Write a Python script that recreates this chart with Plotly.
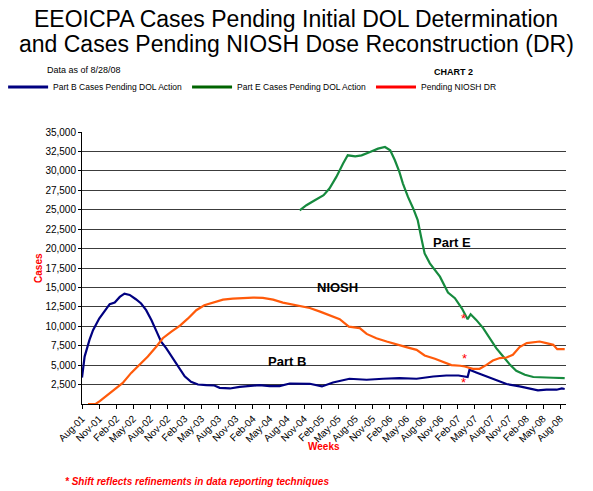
import plotly.graph_objects as go

# Part B cases pending DOL action (weekly series)
partb_dates = ["2001-08-01", "2001-08-15", "2001-09-10", "2001-09-29", "2001-11-01", "2001-12-01",
               "2001-12-27", "2002-01-23", "2002-02-19", "2002-03-16", "2002-04-13", "2002-05-16",
               "2002-06-13", "2002-07-10", "2002-08-07", "2002-09-04", "2002-09-28", "2002-10-25",
               "2002-11-22", "2002-12-28", "2003-02-01", "2003-03-07", "2003-04-13", "2003-05-28",
               "2003-07-10", "2003-08-07", "2003-10-01", "2003-11-22", "2004-01-16", "2004-03-07",
               "2004-05-01", "2004-06-22", "2004-08-16", "2004-10-10", "2004-12-01", "2005-02-04",
               "2005-04-04", "2005-07-01", "2005-10-01", "2005-12-28", "2006-03-25", "2006-06-25",
               "2006-09-22", "2006-12-01", "2007-02-04", "2007-03-25", "2007-04-04", "2007-05-10",
               "2007-07-04", "2007-08-25", "2007-10-19", "2007-12-28", "2008-02-22", "2008-04-04",
               "2008-05-19", "2008-07-13", "2008-08-10", "2008-08-25"]
partb_cases = [3400, 6100, 8250, 9500, 11000, 12070,
               12840, 13050, 13780, 14200, 14030, 13480,
               12930, 12070, 10800, 9310, 8030, 7180,
               6120, 4850, 3570, 2850, 2510, 2420,
               2380, 2080, 2000, 2210, 2300, 2420,
               2300, 2300, 2640, 2610, 2600, 2260,
               2770, 3250, 3120, 3250, 3340, 3250,
               3540, 3670, 3670, 3470, 4400, 4060,
               3540, 2990, 2570, 2260, 1930, 1750,
               1840, 1840, 2000, 1930]

# Part E cases pending DOL action
parte_dates = ["2004-10-08", "2004-11-13", "2004-12-28", "2005-02-13", "2005-03-16", "2005-04-22",
               "2005-05-28", "2005-06-22", "2005-08-01", "2005-09-04", "2005-10-19", "2005-12-01",
               "2006-01-07", "2006-02-04", "2006-03-01", "2006-03-25", "2006-04-13", "2006-05-10",
               "2006-06-07", "2006-07-01", "2006-07-19", "2006-08-07", "2006-09-04", "2006-10-28",
               "2006-12-10", "2007-01-16", "2007-02-22", "2007-03-25", "2007-04-10", "2007-05-10",
               "2007-06-16", "2007-07-22", "2007-08-25", "2007-10-01", "2007-11-07", "2007-12-10",
               "2008-01-25", "2008-03-10", "2008-05-01", "2008-06-25", "2008-08-25"]
parte_cases = [24900, 25580, 26220, 26870, 27730, 29220,
               30940, 32000, 31870, 32000, 32430, 32860,
               33070, 32640, 31360, 29860, 28370, 26650,
               25160, 23660, 21520, 19380, 18100, 16380,
               14350, 13610, 12320, 10910, 11550, 10820,
               9760, 8470, 7190, 6110, 5040, 4270,
               3760, 3470, 3470, 3380, 3340]

# Pending NIOSH dose reconstruction
niosh_dates = ["2001-09-02", "2001-10-13", "2001-11-04", "2001-12-10", "2002-01-23", "2002-03-07",
               "2002-04-21", "2002-06-04", "2002-07-19", "2002-09-03", "2002-10-07", "2002-11-22",
               "2003-01-07", "2003-02-19", "2003-04-04", "2003-05-17", "2003-07-01", "2003-08-25",
               "2003-10-16", "2003-12-10", "2004-02-02", "2004-03-25", "2004-05-19", "2004-07-10",
               "2004-09-04", "2004-10-10", "2004-12-01", "2005-01-25", "2005-03-16", "2005-05-10",
               "2005-06-28", "2005-08-25", "2005-10-01", "2005-11-22", "2006-01-16", "2006-03-07",
               "2006-05-01", "2006-06-25", "2006-08-07", "2006-10-01", "2006-11-13", "2006-12-28",
               "2007-02-13", "2007-03-10", "2007-04-22", "2007-05-28", "2007-07-04", "2007-08-07",
               "2007-09-13", "2007-10-19", "2007-11-22", "2007-12-28", "2008-02-04", "2008-03-10",
               "2008-04-13", "2008-05-19", "2008-06-25", "2008-07-16", "2008-08-25"]
niosh_cases = [0, 0, 380, 1100, 1870, 2720,
               4000, 5060, 6120, 7400, 8460, 9310,
               10080, 11010, 12070, 12710, 13010, 13430,
               13560, 13650, 13690, 13650, 13430, 13050,
               12760, 12600, 12350, 11890, 11460, 10910,
               9960, 9760, 9020, 8470, 8040, 7740,
               7320, 6970, 6240, 5820, 5470, 5010,
               4920, 4830, 4530, 4530, 5040, 5600,
               5910, 5980, 6330, 7320, 7830, 7960,
               8040, 7830, 7610, 7060, 7060]

# series labels placed on the chart
label_text = ["Part E", "NIOSH", "Part B"]
label_dates = ["2007-01-01", "2005-04-30", "2004-08-01"]
label_cases = [20800, 14930, 5430]

# "*" markers flagging the reporting shift
star_dates = ["2007-03-01", "2007-03-09", "2007-03-01"]
star_cases = [11000, 5800, 2800]

y_ticks = list(range(2500, 35001, 2500))

FONT = "Arial, Liberation Sans, sans-serif"

fig = go.Figure()

fig.add_trace(go.Scatter(x=partb_dates, y=partb_cases, mode="lines",
                         line=dict(color="#000080", width=2.2), showlegend=False))
fig.add_trace(go.Scatter(x=parte_dates, y=parte_cases, mode="lines",
                         line=dict(color="#168a3e", width=2.2), showlegend=False))
fig.add_trace(go.Scatter(x=niosh_dates, y=niosh_cases, mode="lines",
                         line=dict(color="#ff5a0a", width=2.2), showlegend=False))

# legend entries (legend colours differ slightly from the plotted lines)
fig.add_trace(go.Scatter(x=[None], y=[None], mode="lines", name="Part B Cases Pending DOL Action",
                         line=dict(color="#000080", width=3)))
fig.add_trace(go.Scatter(x=[None], y=[None], mode="lines", name="Part E Cases Pending DOL Action",
                         line=dict(color="#006400", width=3)))
fig.add_trace(go.Scatter(x=[None], y=[None], mode="lines", name="Pending NIOSH DR",
                         line=dict(color="#ff0000", width=3)))

for t, d, c in zip(label_text, label_dates, label_cases):
    fig.add_annotation(x=d, y=c, text="<b>" + t + "</b>", showarrow=False,
                       xanchor="center", yanchor="middle",
                       font=dict(family=FONT, size=13, color="black"))

for d, c in zip(star_dates, star_cases):
    fig.add_annotation(x=d, y=c, text="*", showarrow=False,
                       xanchor="center", yanchor="middle",
                       font=dict(family=FONT, size=13, color="#ff0000"))

# title as two centred lines
fig.add_annotation(x=0.4426, y=1.417, xref="paper", yref="paper", xanchor="center", yanchor="middle",
                   text="EEOICPA Cases Pending Initial DOL Determination", showarrow=False,
                   font=dict(family=FONT, size=23, color="black"))
fig.add_annotation(x=0.4426, y=1.325, xref="paper", yref="paper", xanchor="center", yanchor="middle",
                   text="and Cases Pending NIOSH Dose Reconstruction (DR)", showarrow=False,
                   font=dict(family=FONT, size=23, color="black"))

fig.add_annotation(x=-0.077, y=1.253, xref="paper", yref="paper", xanchor="left",
                   text="Data as of 8/28/08", showarrow=False,
                   font=dict(family=FONT, size=9, color="black"))
fig.add_annotation(x=0.7225, y=1.246, xref="paper", yref="paper", xanchor="left",
                   text="<b>CHART 2</b>", showarrow=False,
                   font=dict(family=FONT, size=9, color="black"))
fig.add_annotation(x=-0.091, y=0.5, xref="paper", yref="paper", textangle=-90,
                   xanchor="center", yanchor="middle",
                   text="<b>Cases</b>", showarrow=False,
                   font=dict(family=FONT, size=10, color="#ff0000"))
fig.add_annotation(x=0.501, y=-0.157, xref="paper", yref="paper",
                   xanchor="center", yanchor="middle",
                   text="<b>Weeks</b>", showarrow=False,
                   font=dict(family=FONT, size=10, color="#ff0000"))
fig.add_annotation(x=-0.04, y=-0.285, xref="paper", yref="paper", xanchor="left", yanchor="middle",
                   text="<b><i>* Shift reflects refinements in data reporting techniques</i></b>",
                   showarrow=False, font=dict(family=FONT, size=10, color="#ff0000"))

# page body has an 8px margin, so the figure is 8px smaller and everything is offset
fig.update_layout(
    width=585, height=483,
    margin=dict(l=74, r=27, t=124, b=87, autoexpand=False),
    paper_bgcolor="white", plot_bgcolor="white",
    font=dict(family=FONT, color="black"),
    legend=dict(orientation="h", x=-0.163, xanchor="left", y=1.165, yanchor="middle",
                font=dict(family=FONT, size=8.5, color="black"), bgcolor="rgba(0,0,0,0)",
                itemwidth=40, tracegroupgap=0),
)

fig.update_xaxes(type="date", range=["2001-08-01", "2008-09-01"], automargin=False,
                 tick0="2001-08-01", dtick="M3", tickformat="%b-%y", tickangle=-45,
                 tickfont=dict(family=FONT, size=10, color="black"),
                 ticks="outside", ticklen=4, tickcolor="black",
                 showline=True, linecolor="black", linewidth=1,
                 showgrid=False, zeroline=False)
fig.update_yaxes(range=[0, 35000], tickvals=y_ticks, automargin=False,
                 ticktext=[f"{v:,}" for v in y_ticks],
                 tickfont=dict(family=FONT, size=10, color="black"),
                 ticks="outside", ticklen=3, tickcolor="black",
                 showline=True, linecolor="black", linewidth=1,
                 showgrid=True, gridcolor="#3c3c3c", gridwidth=1, zeroline=False)

fig.write_html("out.html")
